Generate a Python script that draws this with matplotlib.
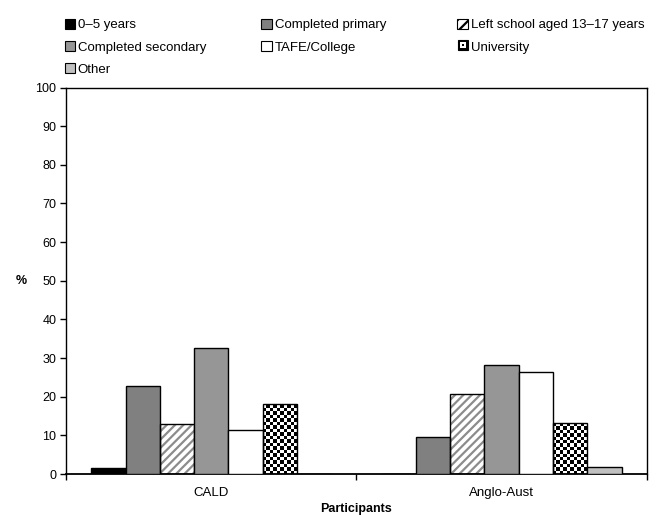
import numpy as np
import matplotlib
matplotlib.use('Agg')
import matplotlib.pyplot as plt
from matplotlib.patches import Patch, Rectangle
from matplotlib.legend_handler import HandlerBase

plt.rcParams['font.family'] = ['Liberation Sans', 'DejaVu Sans']
plt.rcParams['hatch.linewidth'] = 1.6

# Data (percent of participants)
groups = ['CALD', 'Anglo-Aust']
series = ['0\u20135 years', 'Completed primary', 'Left school aged 13\u201317 years',
          'Completed secondary', 'TAFE/College', 'University', 'Other']
cald = [1.6, 22.8, 13.0, 32.7, 11.4, 18.0, 0.0]
anglo = [0.0, 9.5, 20.6, 28.1, 26.3, 13.1, 1.7]

colors = ['black', '#808080', 'white', '#969696', 'white', 'black', '#c0c0c0']


class CheckerHandle(HandlerBase):
    # small legend box for the checkered series
    def create_artists(self, legend, orig_handle, xd, yd, width, height, fontsize, trans):
        s = min(width, height)
        x0, y0 = xd + (width - s) / 2, yd + (height - s) / 2
        outer = Rectangle((x0, y0), s, s, facecolor='black', edgecolor='black',
                          lw=0.8, transform=trans)
        inner = Rectangle((x0 + s * 0.2, y0 + s * 0.2), s * 0.6, s * 0.6,
                          facecolor='white', lw=0, transform=trans)
        dot = Rectangle((x0 + s * 0.38, y0 + s * 0.38), s * 0.24, s * 0.24,
                        facecolor='black', lw=0, transform=trans)
        return [outer, inner, dot]


fig = plt.figure(figsize=(6.62, 5.15), dpi=100)
ax = fig.add_axes([0.0997, 0.0796, 0.8773, 0.7504])
ax.set_xlim(-0.5, 1.5)
ax.set_ylim(0, 100)

x = np.arange(len(groups))
w = 0.826 / len(series)
handles = []
for i, name in enumerate(series):
    vals = [cald[i], anglo[i]]
    pos = x + (i - 3) * w
    if i == 2:
        # hatched bar: gray diagonal lines, black outline on top
        ax.bar(pos, vals, w, color='white', edgecolor='#8c8c8c', hatch='////',
               linewidth=0, zorder=1)
        ax.bar(pos, vals, w, fill=False, edgecolor='black', linewidth=1, zorder=3)
        handles.append(Patch(facecolor='white', edgecolor='black', hatch='///', lw=0.8))
    elif i == 5:
        bars = ax.bar(pos, vals, w, color='black', linewidth=0, zorder=1)
        fig.canvas.draw()
        for rect in bars:
            bb = rect.get_window_extent()
            nx = max(1, int(round(bb.width / 3.4)))
            ny = max(1, int(round(bb.height / 3.4)))
            checker = np.indices((ny, nx)).sum(axis=0) % 2
            im = ax.imshow(checker, cmap='gray', interpolation='nearest', origin='lower',
                           extent=(rect.get_x(), rect.get_x() + rect.get_width(),
                                   0, rect.get_height()),
                           aspect='auto', zorder=2, vmin=0, vmax=1)
            im.set_clip_path(rect)
        ax.bar(pos, vals, w, fill=False, edgecolor='black', linewidth=1, zorder=3)
        handles.append(Patch(facecolor='black', edgecolor='black', lw=0.8))
    else:
        ax.bar(pos, vals, w, color=colors[i], edgecolor='black', linewidth=1, zorder=3)
        handles.append(Patch(facecolor=colors[i], edgecolor='black', lw=0.8))

ax.set_xlim(-0.5, 1.5)
ax.set_ylim(0, 100)
ax.set_aspect('auto')

# axes styling
ax.set_yticks(np.arange(0, 101, 10))
ax.tick_params(axis='y', direction='out', length=4, width=1, labelsize=9, pad=3)
ax.set_xticks([-0.5, 0.5, 1.5])
ax.set_xticklabels([])
ax.tick_params(axis='x', direction='out', length=4, width=1)
ax.set_xticks(x, minor=True)
ax.set_xticklabels(groups, minor=True)
ax.tick_params(axis='x', which='minor', length=0, labelsize=9.5, pad=9)
for s in ax.spines.values():
    s.set_linewidth(1)
ax.spines['bottom'].set_linewidth(1.3)

ax.set_ylabel('%', fontsize=9, fontweight='bold', rotation=0, labelpad=10, va='center')
ax.set_xlabel('Participants', fontsize=9, fontweight='bold', labelpad=3)

# legend: three columns laid out row by row
columns = [[0, 3, 6], [1, 4], [2, 5]]
col_x = [0.0975, 0.3950, 0.6910]
for cols, cx in zip(columns, col_x):
    fig.legend([handles[k] for k in cols], [series[k] for k in cols],
               loc='upper left', bbox_to_anchor=(cx, 0.964), ncol=1, frameon=False,
               fontsize=9.5, handlelength=0.8, handleheight=0.8, handletextpad=0.2,
               labelspacing=0.74, borderaxespad=0, borderpad=0,
               handler_map={handles[5]: CheckerHandle()})

fig.savefig('out.png', dpi=100)
